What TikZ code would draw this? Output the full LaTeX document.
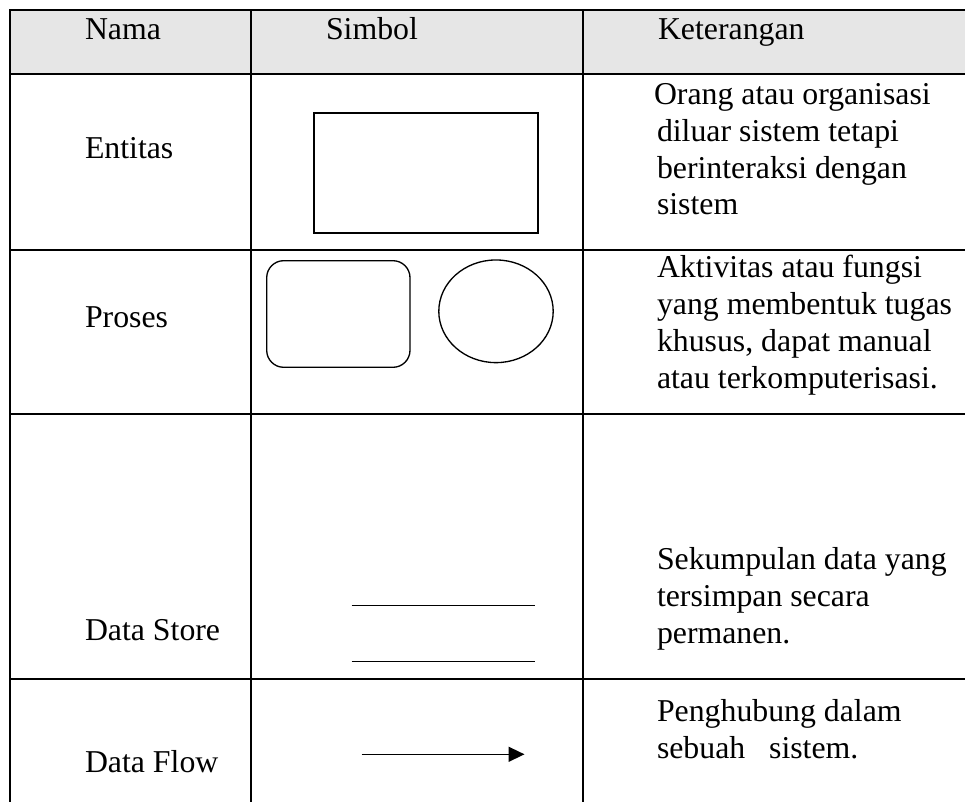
\documentclass[tikz,border=0pt]{standalone}
\usepackage{fontspec}
\setmainfont{Liberation Serif}
\usetikzlibrary{arrows.meta}
\definecolor{hdrgray}{HTML}{E6E6E6}
\newcommand{\cellfont}{\fontsize{23.85pt}{27.5pt}\selectfont}
\begin{document}
\begin{tikzpicture}[x=0.75pt,y=-0.75pt,
  txt/.style={anchor=base west, inner sep=0pt, outer sep=0pt, font=\cellfont, text=black},
  grid/.style={line width=1.5pt, black},
  shp/.style={line width=1pt, black},
  flow/.style={line width=1.1pt, black, -{Triangle[length=12pt,width=11.25pt]}}]
\useasboundingbox (0,0) rectangle (965,802);
% header fill
\fill[hdrgray] (10,10) rectangle (966,74.5);
% table lines
\draw[grid] (10,10) -- (966,10);
\draw[grid] (10,74.5) -- (966,74.5);
\draw[grid] (10,250) -- (966,250);
\draw[grid] (10,414.5) -- (966,414.5);
\draw[grid] (10,679.3) -- (966,679.3);
\draw[grid] (10,9.25) -- (10,803);
\draw[grid] (250.7,10) -- (250.7,803);
\draw[grid] (583,10) -- (583,803);
% header texts
\node[txt] (hNama) at (85,40) {Nama};
\node[txt] (hSimbol) at (326,40) {Simbol};
\node[txt] (hKet) at (658,40) {Keterangan};
% names
\node[txt] (nEnt) at (85,159) {Entitas};
\node[txt] (nPro) at (85,328) {Proses};
\node[txt] (nDS) at (85,640) {Data Store};
\node[txt] (nDF) at (85,772) {Data Flow};
% symbols
\draw[shp] (314,113) rectangle (538,233);
\draw[shp, rounded corners=12.75pt] (266.7,260.7) rectangle (410,367.3);
\draw[shp] (496,311.3) ellipse [x radius=42.9pt, y radius=38.5pt];
\draw[shp] (351.7,605.7) -- (535.3,605.7);
\draw[shp] (351.7,661.7) -- (535.3,661.7);
\coordinate (fa) at (361.7,754.3);
\coordinate (fb) at (524.5,754.3);
\draw[flow] (fa) -- (fb);
% descriptions
\node[txt] (d1a) at (654,105) {Orang atau organisasi};
\node[txt] (d1b) at (657,141.7) {diluar sistem tetapi};
\node[txt] (d1c) at (657,178.4) {berinteraksi dengan};
\node[txt] (d1d) at (657,215) {sistem};
\node[txt] (d2a) at (657,278) {Aktivitas atau fungsi};
\node[txt] (d2b) at (657,315) {yang membentuk tugas};
\node[txt] (d2c) at (657,352) {khusus, dapat manual};
\node[txt] (d2d) at (657,388.5) {atau terkomputerisasi.};
\node[txt] (d3a) at (657,570) {Sekumpulan data yang};
\node[txt] (d3b) at (657,606.7) {tersimpan secara};
\node[txt] (d3c) at (657,643.3) {permanen.};
\node[txt] (d4a) at (657,721.7) {Penghubung dalam};
\node[txt] (d4b) at (657,758.4) {sebuah~~~sistem.};
\end{tikzpicture}
\end{document}
